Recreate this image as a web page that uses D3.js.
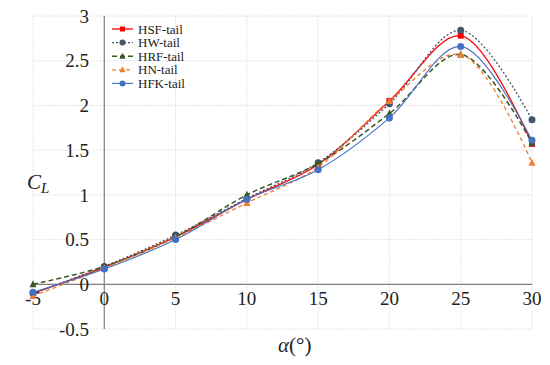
<!DOCTYPE html>
<html><head><meta charset="utf-8">
<script src="https://cdn.jsdelivr.net/npm/d3@7"></script>
<style>body{margin:0;background:#fff}</style>
</head><body>
<svg id="c" width="550" height="365"></svg>
<script>
const alpha = [-5, 0, 5, 10, 15, 20, 25, 30];
const hsf = [-0.10, 0.19, 0.53, 0.95, 1.34, 2.05, 2.78, 1.57];
const hw  = [-0.10, 0.20, 0.55, 0.96, 1.36, 2.02, 2.84, 1.84];
const hrf = [0.00, 0.20, 0.53, 1.00, 1.35, 1.91, 2.57, 1.58];
const hn  = [-0.13, 0.18, 0.52, 0.91, 1.31, 2.05, 2.57, 1.36];
const hfk = [-0.09, 0.17, 0.50, 0.95, 1.28, 1.86, 2.66, 1.61];
const seriesNames = ["HSF-tail", "HW-tail", "HRF-tail", "HN-tail", "HFK-tail"];
const xTicks = [-5, 0, 5, 10, 15, 20, 25, 30];
const yTicks = [-0.5, 0, 0.5, 1, 1.5, 2, 2.5, 3];

const styles = [
  {c: "#FF0000", dash: null, w: 1.3, m: "square"},
  {c: "#44546A", dash: "2,2", w: 1.3, m: "circle"},
  {c: "#385723", dash: "5,3", w: 1.5, m: "triangle"},
  {c: "#ED7D31", dash: "4,3", w: 1.3, m: "triangle"},
  {c: "#4472C4", dash: null, w: 1.1, m: "circle"}
];
const allSeries = [hsf, hw, hrf, hn, hfk];

const svg = d3.select("#c");
const x = d3.scaleLinear().domain([-5, 30]).range([33, 532]);
const y = d3.scaleLinear().domain([-0.5, 3]).range([329, 16]);
const font = "'Liberation Serif', 'DejaVu Serif', serif";

// gridlines
svg.append("g").selectAll("line").data(yTicks).join("line")
  .attr("x1", x(-5)).attr("x2", x(30)).attr("y1", d => y(d)).attr("y2", d => y(d))
  .attr("stroke", "#e6e6e6").attr("stroke-width", 1).attr("stroke-dasharray", "2,1");
svg.append("g").selectAll("line").data(xTicks).join("line")
  .attr("y1", y(3)).attr("y2", y(-0.5)).attr("x1", d => x(d)).attr("x2", d => x(d))
  .attr("stroke", "#e6e6e6").attr("stroke-width", 1).attr("stroke-dasharray", "2,1");

// axes lines
svg.append("line").attr("x1", x(-5)).attr("x2", x(30)).attr("y1", y(0)).attr("y2", y(0))
  .attr("stroke", "#808080").attr("stroke-width", 1.2);
svg.append("line").attr("x1", x(0)).attr("x2", x(0)).attr("y1", y(3)).attr("y2", y(-0.5))
  .attr("stroke", "#808080").attr("stroke-width", 1.2);

// tick labels
svg.append("g").selectAll("text").data(yTicks).join("text")
  .attr("x", 89).attr("y", d => y(d)).attr("dy", "0.35em").attr("text-anchor", "end")
  .attr("font-family", font).attr("font-size", 19).attr("fill", "#222")
  .text(d => String(d));
svg.append("g").selectAll("text").data(xTicks).join("text")
  .attr("x", d => x(d)).attr("y", y(0) + 14).attr("dy", "0.35em").attr("text-anchor", "middle")
  .attr("font-family", font).attr("font-size", 19).attr("fill", "#222")
  .text(d => String(d));

// axis titles
const yt = svg.append("text").attr("x", 27).attr("y", 189)
  .attr("font-family", font).attr("font-size", 21).attr("font-style", "italic").attr("fill", "#222");
yt.append("tspan").text("C");
yt.append("tspan").attr("font-size", 15).attr("dy", 4).text("L");
const xt = svg.append("text").attr("x", 278).attr("y", 352)
  .attr("font-family", font).attr("font-size", 21).attr("fill", "#222");
xt.append("tspan").attr("font-style", "italic").text("α");
xt.append("tspan").text("(°)");

// lines
const line = d3.line().x((d, i) => x(alpha[i])).y(d => y(d)).curve(d3.curveCatmullRom.alpha(0.5));
function marker(g, type, cx, cy, color, s) {
  if (type === "square") g.append("rect").attr("x", cx - s).attr("y", cy - s).attr("width", 2 * s).attr("height", 2 * s).attr("fill", color);
  else if (type === "circle") g.append("circle").attr("cx", cx).attr("cy", cy).attr("r", s + 0.5).attr("fill", color);
  else g.append("path").attr("d", `M${cx},${cy - s - 1}L${cx + s + 0.5},${cy + s}L${cx - s - 0.5},${cy + s}Z`).attr("fill", color);
}
allSeries.forEach((vals, k) => {
  const st = styles[k];
  const g = svg.append("g");
  g.append("path").datum(vals).attr("d", line).attr("fill", "none")
    .attr("stroke", st.c).attr("stroke-width", st.w).attr("stroke-dasharray", st.dash);
  vals.forEach((v, i) => marker(g, st.m, x(alpha[i]), y(v), st.c, 3));
});

// legend
seriesNames.forEach((n, k) => {
  const st = styles[k];
  const ly = 29 + k * 13.6;
  const g = svg.append("g");
  g.append("line").attr("x1", 112).attr("x2", 133).attr("y1", ly).attr("y2", ly)
    .attr("stroke", st.c).attr("stroke-width", st.w).attr("stroke-dasharray", st.dash);
  marker(g, st.m, 122.5, ly, st.c, 2.5);
  g.append("text").attr("x", 138).attr("y", ly).attr("dy", "0.35em")
    .attr("font-family", font).attr("font-size", 13).attr("fill", "#222").text(n);
});
</script>
</body></html>
